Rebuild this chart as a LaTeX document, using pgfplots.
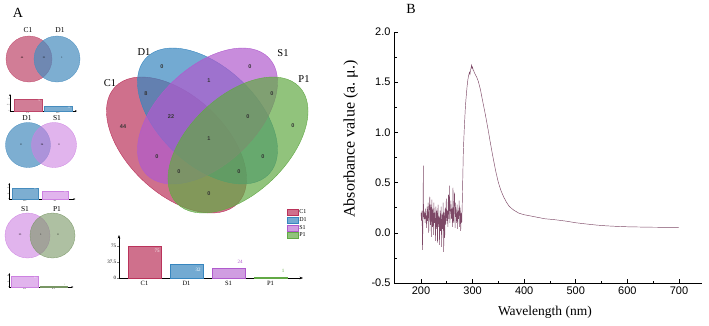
\documentclass[border=0pt]{standalone}
\usepackage{pgfplots}
\pgfplotsset{compat=1.18}
\usepackage{fontspec}
\setmainfont{Liberation Serif}
\setsansfont{Liberation Sans}
\usetikzlibrary{arrows.meta}
\definecolor{cC}{RGB}{186,51,91}
\definecolor{cD}{RGB}{55,134,191}
\definecolor{cS}{RGB}{176,91,205}
\definecolor{cP}{RGB}{98,169,69}
\definecolor{sC}{RGB}{190,70,105}
\definecolor{sD}{RGB}{70,140,190}
\definecolor{sS}{RGB}{205,130,225}
\definecolor{sP}{RGB}{120,150,100}
\definecolor{spec}{RGB}{125,72,102}
\newcommand{\fs}[1]{\fontsize{#1}{#1}\selectfont}
\pgfplotsset{
  boxlegend/.style={legend image code/.code={\draw[##1] (0pt,-3pt) rectangle (11pt,3pt);}},
  minibar/.style={scale only axis, anchor=south west, ybar, bar shift=0pt,
    axis x line=bottom, axis y line=left,
    axis line style={line width=0.3pt, -{Stealth[length=2pt,width=1.6pt]}},
    xmin=0, ymin=0, ytick style={line width=0.2pt}, major tick length=1pt,
    xtick style={draw=none},
    /pgf/number format/assume math mode=true,
    yticklabel style={font=\fs{1.6}, inner sep=0pt, xshift=0.3pt},
    xticklabel style={font=\fs{2.6}, inner sep=0.5pt},
    clip=false},
}
\begin{document}
\begin{tikzpicture}
\useasboundingbox (0,0) rectangle (709pt,325pt);
% ---------------- Panel A : Venn diagrams ----------------
\begin{axis}[at={(0pt,0pt)}, anchor=south west, scale only axis, width=340pt, height=325pt,
  xmin=0, xmax=340, ymin=0, ymax=325, y dir=reverse, axis lines=none, clip=false]
\node[font=\fs{14}] at (axis cs:18,13) {A};
% big four-set Venn
\draw[cC, line width=0.4pt, fill=cC, fill opacity=0.7, rotate around={136.7:(axis cs:176.5,145)}] (axis cs:176.5,145) ellipse [x radius=84.5pt, y radius=48.8pt];
\draw[cD, line width=0.4pt, fill=cD, fill opacity=0.7, rotate around={136.7:(axis cs:207.5,116)}] (axis cs:207.5,116) ellipse [x radius=84.5pt, y radius=48.8pt];
\draw[cS, line width=0.4pt, fill=cS, fill opacity=0.7, rotate around={43.3:(axis cs:207.5,116)}] (axis cs:207.5,116) ellipse [x radius=84.5pt, y radius=48.8pt];
\draw[cP, line width=0.4pt, fill=cP, fill opacity=0.7, rotate around={43.3:(axis cs:238,145)}] (axis cs:238,145) ellipse [x radius=84.5pt, y radius=48.8pt];
\begin{scope}[every node/.style={font=\fs{10.5}}]
\node at (axis cs:110,83) {C1};
\node at (axis cs:144,52) {D1};
\node at (axis cs:283,53) {S1};
\node at (axis cs:304,79) {P1};
\end{scope}
\begin{scope}[every node/.style={font=\sffamily\bfseries\fs{5.5}, text=black!80}]
\node at (axis cs:123,127) {44};
\node at (axis cs:146,94) {8};
\node at (axis cs:171,117) {22};
\node at (axis cs:162,67) {0};
\node at (axis cs:209,81) {1};
\node at (axis cs:250,67) {0};
\node at (axis cs:272,94) {0};
\node at (axis cs:293,126) {0};
\node at (axis cs:248,117) {0};
\node at (axis cs:209,139) {1};
\node at (axis cs:157,157) {0};
\node at (axis cs:179,172) {0};
\node at (axis cs:239,172) {0};
\node at (axis cs:263,157) {0};
\node at (axis cs:209,194) {0};
\end{scope}
% small Venn 1: C1 / D1
\draw[sC, line width=0.3pt, fill=sC, fill opacity=0.7] (axis cs:29,59) circle [radius=23pt];
\draw[sD, line width=0.3pt, fill=sD, fill opacity=0.7] (axis cs:57,59) circle [radius=23pt];
\node[font=\fs{7.5}] at (axis cs:28,30) {C1};
\node[font=\fs{7.5}] at (axis cs:60,30) {D1};
\node[font=\fs{2.5}] at (axis cs:22,58) {44};
\node[font=\fs{2.5}] at (axis cs:44,58) {31};
\node[font=\fs{2.5}] at (axis cs:62,58) {1};
% small Venn 2: D1 / S1
\draw[sD, line width=0.3pt, fill=sD, fill opacity=0.7] (axis cs:28,145) circle [radius=22.5pt];
\draw[sS, line width=0.3pt, fill=sS, fill opacity=0.6] (axis cs:54,145) circle [radius=22.5pt];
\node[font=\fs{7.5}] at (axis cs:27,118) {D1};
\node[font=\fs{7.5}] at (axis cs:57,118) {S1};
\node[font=\fs{2.5}] at (axis cs:21,145) {8};
\node[font=\fs{2.5}] at (axis cs:42,145) {24};
\node[font=\fs{2.5}] at (axis cs:59,145) {0};
% small Venn 3: S1 / P1
\draw[sS, line width=0.3pt, fill=sS, fill opacity=0.6] (axis cs:27.5,235.5) circle [radius=22.5pt];
\draw[sP, line width=0.3pt, fill=sP, fill opacity=0.6] (axis cs:52.5,235.5) circle [radius=22.5pt];
\node[font=\fs{7.5}] at (axis cs:25,209) {S1};
\node[font=\fs{7.5}] at (axis cs:57,209) {P1};
\node[font=\fs{2.5}] at (axis cs:20,235) {23};
\node[font=\fs{2.5}] at (axis cs:41,235) {1};
\node[font=\fs{2.5}] at (axis cs:58,235) {0};
\end{axis}
% small bar chart 1
\begin{axis}[minibar, at={(10pt,214pt)}, width=67pt, height=17pt, xmax=67, ymax=106,
  ytick={0,37.5,75}, xtick={18,48}, xticklabels={C1,D1}]
\addplot[fill=sC, fill opacity=0.7, draw=sC, line width=0.3pt, bar width=28pt] coordinates {(18,75)};
\addplot[fill=sD, fill opacity=0.7, draw=sD, line width=0.3pt, bar width=28pt] coordinates {(48,32)};
\node[font=\fs{2.2}, text=white] at (axis cs:29,66) {75};
\node[font=\fs{2.2}, text=white] at (axis cs:59,22) {32};
\end{axis}
% small bar chart 2
\begin{axis}[minibar, at={(9.3pt,126pt)}, width=66pt, height=16pt, xmax=66, ymax=46.5,
  ytick={0,16,32}, xtick={15.7,45.7}, xticklabels={D1,S1}]
\addplot[fill=sD, fill opacity=0.7, draw=sD, line width=0.3pt, bar width=26pt] coordinates {(15.7,32)};
\addplot[fill=sS, fill opacity=0.6, draw=sS, line width=0.3pt, bar width=26pt] coordinates {(45.7,24)};
\node[font=\fs{2.2}, text=white] at (axis cs:26,29) {32};
\node[font=\fs{2.2}, text=white] at (axis cs:56,21) {24};
\end{axis}
% small bar chart 3
\begin{axis}[minibar, at={(9.3pt,38pt)}, width=64pt, height=14pt, xmax=64, ymax=30.5,
  ytick={0,12,24}, xtick={15.2,44.2}, xticklabels={S1,P1}]
\addplot[fill=sS, fill opacity=0.6, draw=sS, line width=0.3pt, bar width=27pt] coordinates {(15.2,24)};
\addplot[fill=sP, fill opacity=0.6, draw=sP, line width=0.3pt, bar width=27pt] coordinates {(44.2,1)};
\node[font=\fs{2.2}, text=white] at (axis cs:26,21) {24};
\node[font=\fs{2.2}, text=sP] at (axis cs:55,4) {1};
\end{axis}
% big bar chart with legend
\begin{axis}[scale only axis, anchor=south west, at={(119pt,47pt)}, width=184pt, height=43pt,
  ybar, bar shift=0pt, xmin=0, xmax=184, ymin=0, ymax=100.8,
  axis x line=bottom, axis y line=left,
  axis line style={line width=0.45pt, -{Stealth[length=3.5pt,width=2.6pt]}},
  ytick={0,37.5,75}, yticklabels={0,37.5,75}, tick align=outside, major tick length=2pt,
  ytick style={line width=0.4pt},
  xtick={25.5,67.5,109.5,151.5}, xticklabels={C1,D1,S1,P1}, xtick style={draw=none},
  yticklabel style={font=\fs{5}, inner sep=0.8pt},
  xticklabel style={font=\fs{6.5}, inner sep=1pt},
  legend style={at={(axis cs:168,162)}, anchor=north west, draw=none, fill=none,
    font=\fs{6}, inner sep=0pt, row sep=0.5pt, nodes={inner sep=0.8pt}},
  legend cell align=left, clip=false]
\addplot[fill=cC, fill opacity=0.7, draw=cC, line width=0.4pt, bar width=33pt, boxlegend] coordinates {(25.5,75)};
\addlegendentry{C1}
\addplot[fill=cD, fill opacity=0.7, draw=cD, line width=0.4pt, bar width=33pt, boxlegend] coordinates {(67.5,32)};
\addlegendentry{D1}
\addplot[fill=cS, fill opacity=0.6, draw=cS, line width=0.4pt, bar width=33pt, boxlegend] coordinates {(109.5,24)};
\addlegendentry{S1}
\addplot[fill=cP, fill opacity=0.7, draw=cP, line width=0.4pt, bar width=33pt, boxlegend] coordinates {(151.5,1)};
\addlegendentry{P1}
\node[font=\fs{5}, text=white] at (axis cs:38,63) {75};
\node[font=\fs{5}, text=white] at (axis cs:79,19) {32};
\node[font=\fs{5}, text=cS] at (axis cs:121,37.5) {24};
\node[font=\fs{5}, text=cP] at (axis cs:164,16.5) {1};
\end{axis}
% ---------------- Panel B : absorbance spectrum ----------------
\begin{axis}[at={(394pt,42pt)}, anchor=south west, scale only axis, width=308pt, height=251pt,
  xmin=147.7, xmax=744.6, ymin=-0.5, ymax=2.0,
  axis x line*=bottom, axis y line*=left, axis line style={-, line width=0.6pt},
  xtick={200,300,...,700}, minor xtick={250,350,...,650},
  ytick={-0.5,0,0.5,1.0,1.5,2.0}, minor ytick={-0.25,0.25,0.75,1.25,1.75},
  tick align=inside, major tick length=4pt, minor tick length=2.5pt,
  tick style={line width=0.6pt, black},
  /pgf/number format/assume math mode=true,
  ticklabel style={font=\sffamily\fs{11}},
  yticklabel style={/pgf/number format/.cd, fixed, fixed zerofill, precision=1},
  xticklabel style={/pgf/number format/.cd, fixed, precision=0},
  xlabel={Wavelength (nm)}, ylabel={Absorbance value (a.\ μ.)},
  xlabel style={font=\fs{13.5}, at={(axis description cs:0.49,-0.116)}, anchor=center},
  ylabel style={font=\fs{16}, at={(axis description cs:-0.14,0.574)}, anchor=center},
  clip=false]
\addplot[spec, line width=0.45pt] table {
x y
200 0.20
201 0.12
202 0.22
203 -0.17
204 0.18
204.5 0.67
205 0.20
206 0.14
207 0.21
208 0.10
209 0.24
210 0.15
211 0.05
212 0.26
213 0.12
214 0.30
215 0.00
216 0.22
217 0.36
218 0.08
219 0.28
220 -0.04
221 0.33
222 0.06
223 0.24
224 -0.02
225 0.30
226 0.10
227 0.20
228 -0.08
229 0.26
230 0.04
231 0.22
232 -0.10
233 0.28
234 0.06
235 0.16
236 -0.12
237 0.22
238 0.02
239 0.26
240 -0.14
241 0.18
242 0.04
243 0.30
244 -0.19
245 0.20
246 -0.05
247 0.25
248 0.08
249 0.34
250 0.12
251 0.22
252 0.06
253 0.38
254 0.14
255 0.47
256 0.10
257 0.22
258 0.32
259 0.14
260 0.24
261 0.06
262 0.45
263 0.10
264 0.26
265 0.40
266 0.05
267 0.30
268 0.18
269 0.10
270 0.28
271 0.04
272 0.22
273 0.14
274 0.32
275 0.06
276 0.25
277 0.02
278 0.20
279 0.10
280 0.30
281 0.55
282 0.80
283 0.93
284 1.05
285 1.15
286 1.25
287 1.32
288 1.38
289 1.44
290 1.49
291 1.53
292 1.56
293 1.58
294 1.60
295 1.58
296 1.62
297 1.64
298 1.67
299 1.64
300 1.65
301 1.62
302 1.62
303 1.60
305 1.58
308 1.55
311 1.51
315 1.43
320 1.30
325 1.17
330 1.03
335 0.88
340 0.74
345 0.61
350 0.50
355 0.42
360 0.36
365 0.31
370 0.27
375 0.245
380 0.225
385 0.21
390 0.195
400 0.18
420 0.16
440 0.14
460 0.13
480 0.117
500 0.10
520 0.088
540 0.077
560 0.069
580 0.064
600 0.060
620 0.058
640 0.056
660 0.055
680 0.054
700 0.053
};
\node[font=\fs{14}, anchor=center] at (axis description cs:0.055,1.09) {B};
\end{axis}
\end{tikzpicture}
\end{document}
